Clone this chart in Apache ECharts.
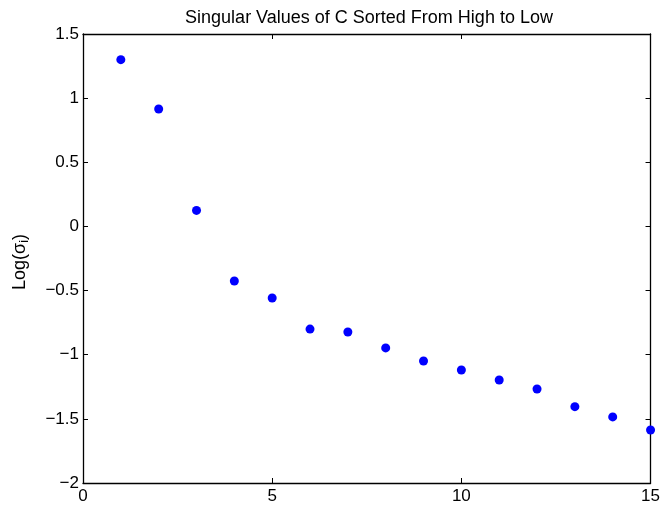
<!DOCTYPE html>
<html>
<head>
<meta charset="utf-8">
<script src="https://cdn.jsdelivr.net/npm/echarts@6/dist/echarts.min.js"></script>
<style>html,body{margin:0;padding:0;background:#fff;}#c{width:663px;height:510px;}</style>
</head>
<body>
<div id="c"></div>
<script>
var indices = [1,2,3,4,5,6,7,8,9,10,11,12,13,14,15];
var logSigma = [1.30,0.915,0.125,-0.425,-0.558,-0.80,-0.823,-0.947,-1.049,-1.119,-1.197,-1.267,-1.405,-1.485,-1.587];
var xTicks = [0,5,10,15];
var yTicks = [-2,-1.5,-1,-0.5,0,0.5,1,1.5];

var font = 'Liberation Sans, Arial, Helvetica, sans-serif';
var chart = echarts.init(document.getElementById('c'));
function axisCommon(show, margin) {
  return {
    axisLine: {show: true, onZero: false, lineStyle: {color: '#000', width: 1.3}},
    axisTick: {show: true, inside: true, length: 5, lineStyle: {color: '#000', width: 1}},
    splitLine: {show: false},
    axisLabel: {show: show, color: '#000', fontSize: 17, fontFamily: font, margin: margin,
      formatter: function (v) { return v < 0 ? '\u2212' + Math.abs(v) : String(v); }}
  };
}
var data = indices.map(function (x, i) { return [x, logSigma[i]]; });
chart.setOption({
  animation: false,
  title: {text: 'Singular Values of C Sorted From High to Low', left: 364, top: 4, textAlign: 'center',
    textStyle: {fontSize: 18, fontWeight: 'normal', color: '#000', fontFamily: font}},
  grid: {left: 83, right: 10, top: 34, bottom: 27},
  xAxis: [
    Object.assign({type: 'value', min: xTicks[0], max: xTicks[xTicks.length-1], interval: 5, position: 'bottom'}, axisCommon(true, 5)),
    Object.assign({type: 'value', min: xTicks[0], max: xTicks[xTicks.length-1], interval: 5, position: 'top'}, axisCommon(false, 5))
  ],
  yAxis: [
    Object.assign({type: 'value', min: yTicks[0], max: yTicks[yTicks.length-1], interval: 0.5, position: 'left',
      name: '{a|Log(σ}{b|i}{a|)}', nameLocation: 'middle', nameGap: 52, nameRotate: 90,
      nameTextStyle: {padding: [0, 7, 0, 0], rich: {a: {fontSize: 18, fontFamily: font, color: '#000'}, b: {fontSize: 13, fontFamily: font, color: '#000', verticalAlign: 'bottom', padding: [8,0,0,0]}}}
    }, axisCommon(true, 4)),
    Object.assign({type: 'value', min: yTicks[0], max: yTicks[yTicks.length-1], interval: 0.5, position: 'right'}, axisCommon(false, 4))
  ],
  series: [{
    type: 'scatter', data: data, symbol: 'circle', symbolSize: 9,
    itemStyle: {color: '#0000ff', opacity: 1}, clip: false
  }]
});
</script>
</body>
</html>
